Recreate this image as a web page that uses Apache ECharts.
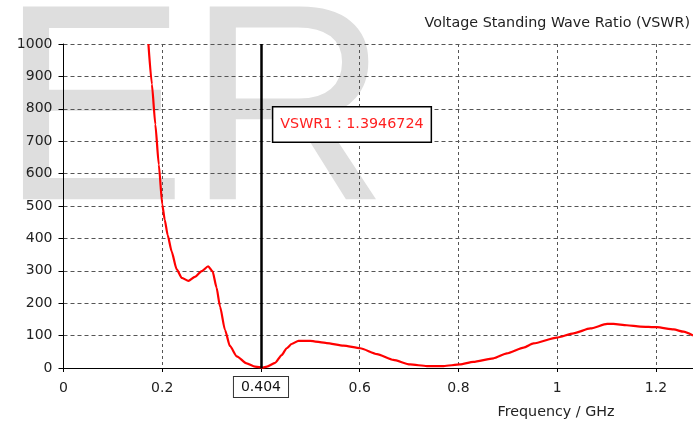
<!DOCTYPE html>
<html>
<head>
<meta charset="utf-8">
<title>Voltage Standing Wave Ratio (VSWR)</title>
<script src="https://cdn.jsdelivr.net/npm/echarts@6/dist/echarts.min.js"></script>
<style>
  html, body { margin: 0; padding: 0; background: #fff; }
  #chart { width: 693px; height: 421px; }
</style>
</head>
<body>
<div id="chart"></div>
<script>
// Frequency samples (GHz) and VSWR values of the swept response
const freqGHz = [
  0.172, 0.179, 0.186, 0.193, 0.200, 0.205, 0.211, 0.219, 0.229, 0.2395,
  0.253, 0.266, 0.280, 0.293, 0.302, 0.310, 0.317, 0.327, 0.337, 0.351,
  0.371, 0.388, 0.404, 0.412, 0.4286, 0.442, 0.452, 0.462, 0.476, 0.4995,
  0.533, 0.567, 0.601, 0.635, 0.668, 0.702, 0.736, 0.770, 0.803, 0.830,
  0.871, 0.898, 0.932, 0.952, 0.999, 1.033, 1.067, 1.101, 1.114, 1.141,
  1.168, 1.202, 1.236, 1.256, 1.275
];
const vswr = [
  1000, 876, 752, 628, 505, 458, 410, 360, 305, 278,
  269, 281, 299, 314, 298, 248, 190, 118, 68, 36,
  14, 4, 1.3946724, 4, 16, 40, 61, 74, 84, 84,
  77, 69, 61, 43, 25, 11, 6, 6, 11, 19,
  30, 45, 63, 76, 94, 107, 122, 136, 136, 132,
  128, 126, 119, 112, 100
];

// Marker readout
const markerName = 'VSWR1';
const markerFreq = 0.404;
const markerValue = 1.3946724;

// Axis settings
const xMin = 0, xMax = 1.275, xStep = 0.2;
const yMin = 0, yMax = 1000, yStep = 100;

const chartTitle = 'Voltage Standing Wave Ratio (VSWR)';
const xTitle = 'Frequency / GHz';
const watermark = 'ER';

const font = 'DejaVu Sans';
const textColor = '#222';

const chart = echarts.init(document.getElementById('chart'), null, { renderer: 'canvas' });

chart.setOption({
  animation: false,
  backgroundColor: '#fff',
  grid: { left: 63.5, right: 0, top: 44, bottom: 53, containLabel: false },
  graphic: {
    elements: [
      {
        type: 'text', z: -100, silent: true,
        x: 0, y: 122,
        style: {
          text: watermark,
          font: '280px "Liberation Sans", Arial, sans-serif',
          fill: '#dedede',
          align: 'left', verticalAlign: 'middle'
        }
      },
      {
        type: 'text', x: 690, y: 23,
        style: {
          text: chartTitle, font: '14.3px "' + font + '"', fill: textColor,
          align: 'right', verticalAlign: 'middle'
        }
      },
      {
        type: 'text', x: 556, y: 412,
        style: {
          text: xTitle, font: '14.3px "' + font + '"', fill: textColor,
          align: 'center', verticalAlign: 'middle'
        }
      }
    ]
  },
  xAxis: [
    {
      type: 'value', min: xMin, max: xMax, interval: xStep,
      axisLine: { show: true, onZero: false, lineStyle: { color: '#000', width: 1 } },
      axisTick: { show: true, length: 4, lineStyle: { color: '#000' } },
      axisLabel: {
        show: true, margin: 13, color: textColor, fontFamily: font, fontSize: 14,
        showMaxLabel: false,
        formatter: v => (Math.abs(v - 0.4) < 1e-6 ? '' : String(+v.toFixed(1)))
      },
      splitLine: { show: true, lineStyle: { color: '#555', width: 1, type: [3, 3] } }
    },
    {
      type: 'value', position: 'top', min: xMin, max: xMax,
      axisLine: { show: true, lineStyle: { color: '#000', width: 1 } },
      axisTick: { show: false }, axisLabel: { show: false }, splitLine: { show: false }
    }
  ],
  yAxis: {
    type: 'value', min: yMin, max: yMax, interval: yStep,
    axisLine: { show: true, lineStyle: { color: '#000', width: 1 } },
    axisTick: { show: true, length: 5, lineStyle: { color: '#000' } },
    axisLabel: {
      show: true, margin: 11, color: textColor, fontFamily: font, fontSize: 14,
      formatter: v => String(v)
    },
    splitLine: { show: true, lineStyle: { color: '#555', width: 1, type: [4, 3] } }
  },
  series: [{
    type: 'line',
    xAxisIndex: 0,
    data: freqGHz.map((f, i) => [f, vswr[i]]),
    showSymbol: false,
    smooth: 0.2,
    smoothMonotone: 'x',
    clip: true,
    lineStyle: { color: '#ff0000', width: 2.2 },
    markLine: {
      silent: true,
      symbol: ['none', 'none'],
      animation: false,
      lineStyle: { color: '#000', width: 2.5, type: 'solid' },
      label: {
        show: true, position: 'start', distance: 9,
        formatter: () => String(markerFreq),
        color: '#111', fontFamily: font, fontSize: 14,
        backgroundColor: '#fff', borderColor: '#333', borderWidth: 1,
        padding: [3, 7, 3, 7]
      },
      data: [{ xAxis: markerFreq }]
    },
    markPoint: {
      silent: true,
      symbol: 'rect', symbolSize: 0,
      label: {
        show: true, position: 'inside', offset: [89, -243],
        formatter: () => markerName + ' : ' + markerValue,
        color: '#ff2020', fontFamily: font, fontSize: 14.3,
        backgroundColor: '#fff', borderColor: '#000', borderWidth: 1.5,
        padding: [10, 7, 10, 7]
      },
      data: [{ coord: [markerFreq, markerValue] }]
    }
  }]
});
</script>
</body>
</html>
